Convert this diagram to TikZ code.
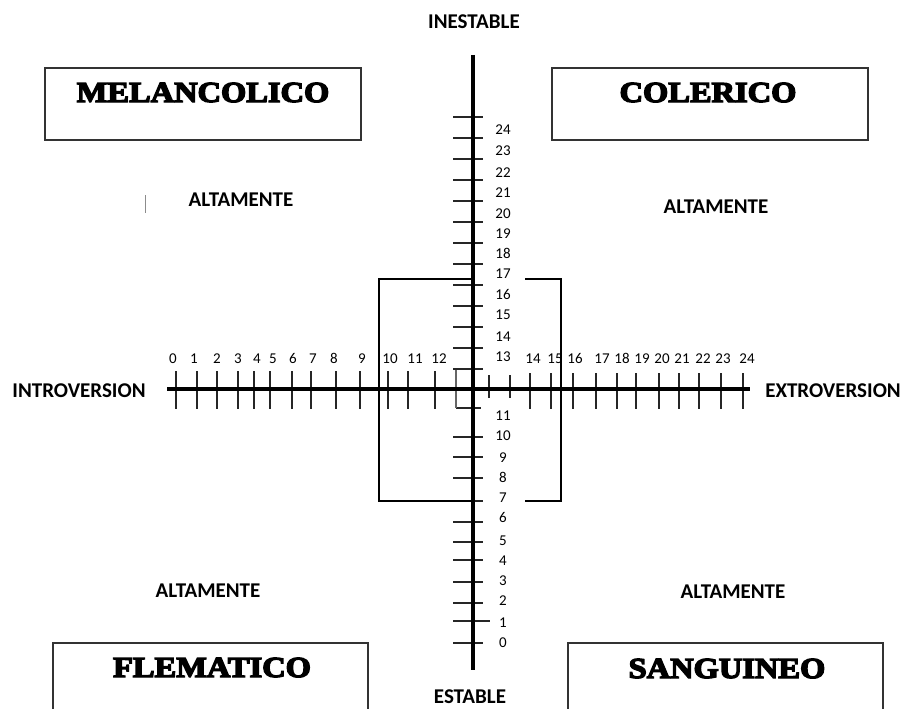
\documentclass[tikz,border=0pt]{standalone}
\usepackage{fontspec}
\setmainfont{Carlito}[Numbers={Lining,Monospaced}]
\newfontfamily\heavy[FakeBold=4.5]{Liberation Serif Bold}
\begin{document}
\begin{tikzpicture}[x=1pt,y=-1pt,
  axisline/.style={line width=3.8pt},
  bracketline/.style={line width=2.8pt},
  tickline/.style={line width=1.5pt, black!85},
  boxline/.style={line width=1.6pt, black!80},
  title/.style={font=\heavy\fontsize{29}{31}\selectfont, anchor=base, inner sep=0pt},
  lbl/.style={font=\bfseries\fontsize{21}{23}\selectfont, inner sep=0pt},
  num/.style={font=\fontsize{15}{17}\selectfont, inner sep=0pt, text height=10pt, text depth=0pt}]
\useasboundingbox (0,0) rectangle (902,709);
\fill[white] (0,0) rectangle (902,709);

% boxes
\draw[boxline] (45,68) rectangle (361,140);
\node[title] (mel) at (203,102) {\scalebox{1.12}[1]{MELANCOLICO}};
\draw[boxline] (552,68) rectangle (868,140);
\node[title] (col) at (708,102) {\scalebox{1.12}[1]{COLERICO}};
\draw[boxline] (53,712) |- (368,643) -- (368,712);
\node[title] (fle) at (212,677) {\scalebox{1.12}[1]{FLEMATICO}};
\draw[boxline] (568,712) |- (883,643) -- (883,712);
\node[title] (san) at (727,678) {\scalebox{1.12}[1]{SANGUINEO}};

% labels
\node[lbl] (ine) at (474,22) {INESTABLE};
\node[lbl] (est) at (470,697) {ESTABLE};
\node[lbl] (intro) at (79,391) {INTROVERSION};
\node[lbl] (extro) at (833,391) {EXTROVERSION};
\node[lbl] (a1) at (241,200) {ALTAMENTE};
\node[lbl] (a2) at (716,207) {ALTAMENTE};
\node[lbl] (a3) at (208,591) {ALTAMENTE};
\node[lbl] (a4) at (733,592) {ALTAMENTE};
\draw[line width=1pt, black!45] (145,195) -- (145,213);

% axes
\coordinate (vt) at (473,55);
\coordinate (vb) at (473,670);
\coordinate (hl) at (167,389);
\coordinate (hr) at (750,389);

% horizontal ticks left
\foreach \x in {176,197,217,238,254,270,292,311,336,360,388,408,435}
  \draw[tickline] (\x,371) -- (\x,409);
% horizontal ticks right
\foreach \x in {489,510}
  \draw[tickline] (\x,375) -- (\x,398);
\foreach \x in {530,551,573,596,617,636,659,679,699,721,743}
  \draw[tickline] (\x,373) -- (\x,409);
% vertical ticks
\foreach \y in {117,138,159,180,201,222,243,264,285,306,327,348,369,437,457,478,501,522,542,560,582,603,643}
  \draw[tickline] (453,\y) -- (483,\y);
\draw[tickline] (453,621) -- (490,621);
\draw[tickline] (456,408) -- (481,408);
\draw[tickline, black!60] (456,370) -- (456,408);

\draw[axisline] (vt) -- (vb);
\draw[axisline] (hl) -- (hr);

% brackets
\coordinate (b1) at (379,279);
\coordinate (b2) at (379,501);
\coordinate (b3) at (525,279);
\coordinate (b4) at (525,501);
\draw[bracketline] (473,279) -- (b1) -- (b2) -- (473,501);
\draw[bracketline] (b3) -- (561,279) -- (561,501) -- (b4);

% horizontal numbers
\foreach \x/\t in {173/0,194/1,217/2,238/3,257/4,273/5,293/6,313/7,334/8,362/9,390/10,415/11,439/12,
                   533/14,555/15,575/16,602/17,622/18,642/19,662/20,682/21,703/22,723/23,747/24}
  \node[num] at (\x,358) {\t};
% vertical numbers
\foreach \y/\t in {129/24,150/23,172/22,192/21,213/20,233/19,253/18,273/17,294/16,314/15,336/14,356/13,
                   415/11,435/10,457/9,477/8,497/7,517/6,540/5,560/4,580/3,600/2,622/1,642/0}
  \node[num] at (503,\y) {\t};
\end{tikzpicture}
\end{document}
